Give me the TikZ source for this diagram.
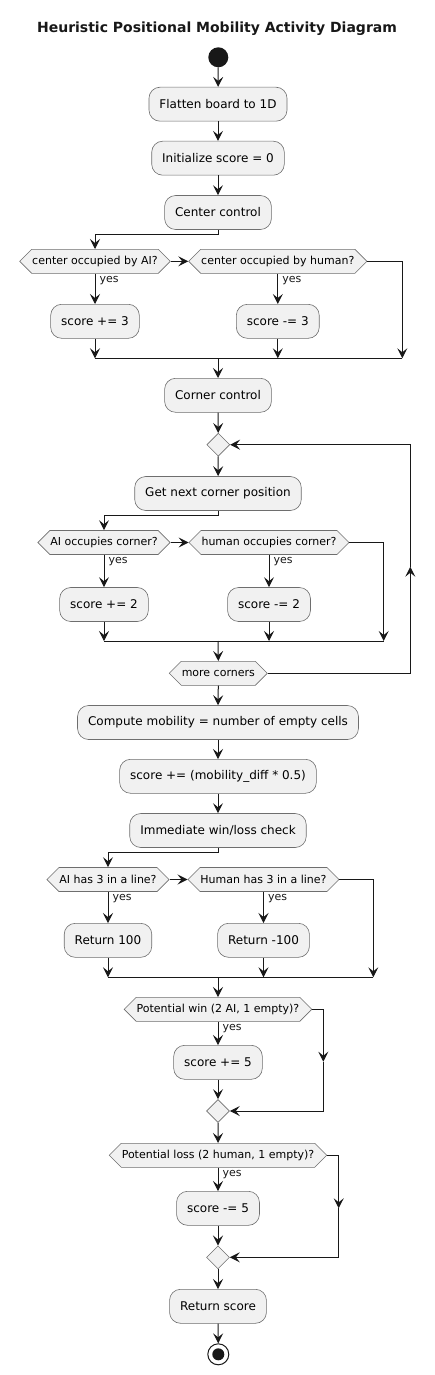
\documentclass[tikz,border=0pt]{standalone}
\usepackage{fontspec}
\setmainfont{DejaVu Sans}
\usetikzlibrary{arrows.meta,shapes.geometric,shapes.symbols,calc}
\definecolor{boxfill}{HTML}{F1F1F1}
\definecolor{boxline}{HTML}{6E6E6E}
\definecolor{ink}{HTML}{181818}
\tikzset{
  act/.style={draw=boxline, line width=0.6pt, fill=boxfill, rounded corners=11pt,
    minimum height=34pt, inner xsep=10.5pt, font=\fontsize{12}{14}\selectfont},
  hex/.style={draw=boxline, line width=0.6pt, fill=boxfill, signal, signal to=west and east,
    signal pointer angle=90, minimum height=24pt, inner xsep=0.5pt, inner ysep=0pt,
    font=\fontsize{11}{13}\selectfont},
  mergebox/.style={draw=boxline, line width=0.6pt, fill=boxfill, diamond, minimum size=23pt, inner sep=0pt},
  arr/.style={draw=ink, line width=1pt, -{Stealth[length=10pt,width=10pt,inset=4pt]}},
  plain/.style={draw=ink, line width=1pt},
  yeslab/.style={font=\fontsize{11}{13}\selectfont, inner sep=1pt, anchor=north west, text=ink,
    xshift=3pt, yshift=-1pt},
}
\begin{document}
\begin{tikzpicture}[x=1pt,y=-1pt]
\useasboundingbox (0,0) rectangle (435,1375);
\node[font=\bfseries\fontsize{14}{16}\selectfont, text=ink] (title) at (217,29) {Heuristic Positional Mobility Activity Diagram};
\node[circle, fill=ink, minimum size=20pt, inner sep=0pt] (start) at (218.3,57.3) {};
\node[act] (flat) at (218,104.2) {Flatten board to 1D};
\node[act] (init) at (218,158.2) {Initialize score = 0};
\node[act] (cc) at (218,212.5) {Center control};
\node[hex] (d1) at (95,261.3) {center occupied by AI?};
\node[hex] (d2) at (277.8,261.3) {center occupied by human?};
\node[act] (s1) at (95,321.3) {score += 3};
\node[act] (s2) at (277.8,321.3) {score -= 3};
\coordinate (m1L) at (95,358.3);
\coordinate (m1M) at (218,358.3);
\coordinate (m1R) at (402.3,358.3);
\node[act] (corner) at (218,395.3) {Corner control};
\node[mergebox] (loop) at (218.3,444.7) {};
\node[act] (gnc) at (218,493.5) {Get next corner position};
\node[hex] (d3) at (104,542.5) {AI occupies corner?};
\node[hex] (d4) at (269,542.5) {human occupies corner?};
\node[act] (s3) at (104,604.5) {score += 2};
\node[act] (s4) at (269,604.5) {score -= 2};
\coordinate (m2L) at (104,641);
\coordinate (m2M) at (218,641);
\coordinate (m2R) at (383.7,641);
\node[hex] (more) at (218.3,673.3) {more corners};
\coordinate (loopR) at (410.3,673.3);
\coordinate (loopUp) at (410.3,566.7);
\node[act] (comp) at (218,722.5) {Compute mobility = number of empty cells};
\node[act] (sdiff) at (218,776.3) {score += (mobility\_diff * 0.5)};
\node[act] (imm) at (218,830.5) {Immediate win/loss check};
\node[hex] (d5) at (108,879.5) {AI has 3 in a line?};
\node[hex] (d6) at (263.5,879.5) {Human has 3 in a line?};
\node[act] (r1) at (108,940.3) {Return 100};
\node[act] (r2) at (263.5,940.3) {Return -100};
\coordinate (m3L) at (108,977.3);
\coordinate (m3M) at (218,977.3);
\coordinate (m3R) at (373.3,977.3);
\node[hex] (pw) at (218,1009.3) {Potential win (2 AI, 1 empty)?};
\coordinate (pwR) at (323.3,1061.7);
\node[act] (s5) at (218,1062.3) {score += 5};
\node[mergebox] (md1) at (218,1111) {};
\node[hex] (pl) at (218,1155.3) {Potential loss (2 human, 1 empty)?};
\coordinate (plR) at (338.7,1208.3);
\node[act] (s6) at (218,1208.3) {score -= 5};
\node[mergebox] (md2) at (218,1257.3) {};
\node[act] (rs) at (218,1306.3) {Return score};
\node[circle, draw=ink, line width=1pt, fill=white, minimum size=21pt, inner sep=0pt] (stop) at (218.3,1354.3) {};
\node[circle, fill=ink, minimum size=12pt, inner sep=0pt] (stopin) at (stop.center) {};
% main flow
\draw[arr] (start) -- (flat);
\draw[arr] (flat) -- (init);
\draw[arr] (init) -- (cc);
\draw[arr] (cc.south) -- ++(0,5) -| (d1.north);
\draw[arr] (d1.east) -- (d2.west);
\draw[arr] (d1.south) -- (s1.north) node[yeslab, pos=0] {yes};
\draw[arr] (d2.south) -- (s2.north) node[yeslab, pos=0] {yes};
\draw[arr] (s1.south) -- (m1L);
\draw[arr] (s2.south) -- (s2.south |- m1M);
\draw[arr] (d2.east) -| (m1R);
\draw[plain] (m1L) -- (m1R);
\draw[arr] (m1M) -- (corner.north);
\draw[arr] (corner) -- (loop);
\draw[arr] (loop) -- (gnc);
\draw[arr] (gnc.south) -- ++(0,5) -| (d3.north);
\draw[arr] (d3.east) -- (d4.west);
\draw[arr] (d3.south) -- (s3.north) node[yeslab, pos=0] {yes};
\draw[arr] (d4.south) -- (s4.north) node[yeslab, pos=0] {yes};
\draw[arr] (s3.south) -- (m2L);
\draw[arr] (s4.south) -- (s4.south |- m2M);
\draw[arr] (d4.east) -| (m2R);
\draw[plain] (m2L) -- (m2R);
\draw[arr] (m2M) -- (more.north);
\draw[arr] (more.east) -- (loopR) -- (loopUp);
\draw[arr] (loopUp) |- (loop.east);
\draw[arr] (more.south) -- (comp.north);
\draw[arr] (comp) -- (sdiff);
\draw[arr] (sdiff) -- (imm);
\draw[arr] (imm.south) -- ++(0,5) -| (d5.north);
\draw[arr] (d5.east) -- (d6.west);
\draw[arr] (d5.south) -- (r1.north) node[yeslab, pos=0] {yes};
\draw[arr] (d6.south) -- (r2.north) node[yeslab, pos=0] {yes};
\draw[arr] (r1.south) -- (m3L);
\draw[arr] (r2.south) -- (r2.south |- m3M);
\draw[arr] (d6.east) -| (m3R);
\draw[plain] (m3L) -- (m3R);
\draw[arr] (m3M) -- (pw.north);
\draw[arr] (pw.south) -- (s5.north) node[yeslab, pos=0] {yes};
\draw[arr] (pw.east) -| (pwR);
\draw[arr] (pwR) |- (md1.east);
\draw[arr] (s5) -- (md1);
\draw[arr] (md1) -- (pl);
\draw[arr] (pl.south) -- (s6.north) node[yeslab, pos=0] {yes};
\draw[arr] (pl.east) -| (plR);
\draw[arr] (plR) |- (md2.east);
\draw[arr] (s6) -- (md2);
\draw[arr] (md2) -- (rs);
\draw[arr] (rs) -- (stop);
\end{tikzpicture}
\end{document}
